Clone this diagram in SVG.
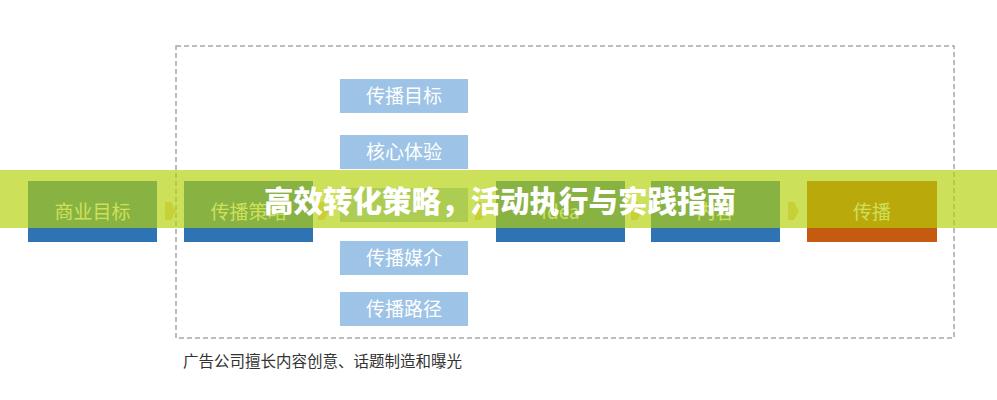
<svg xmlns="http://www.w3.org/2000/svg" width="997" height="400" viewBox="0 0 997 400">
<style>
.main{fill:#2e74b5}
.hot{fill:#c55a11}
.side{fill:#9dc3e6}
.lbl{font-family:"Noto Sans CJK SC","Liberation Sans",sans-serif;font-size:19px;fill:#ffffff;text-anchor:middle}
.arr{fill:#f0ce94}
.frame{fill:none;stroke:#a6a6a6;stroke-width:1.5;stroke-dasharray:5 3}
.cap{font-family:"Noto Sans CJK SC","Liberation Sans",sans-serif;font-size:15.5px;fill:#333333}
.title{font-family:"Noto Sans CJK SC","Liberation Sans",sans-serif;font-size:29.5px;font-weight:900;fill:#ffffff;text-anchor:middle}
</style>
<rect width="997" height="400" fill="#ffffff"/>
<rect class="frame" x="176" y="46" width="778" height="292"/>
<g id="connectors">
<polygon class="arr" points="165,202 171,202 176,211 171,220 165,220"/>
<polygon class="arr" points="318,202 324,202 329,211 324,220 318,220"/>
<polygon class="arr" points="475,202 481,202 486,211 481,220 475,220"/>
<polygon class="arr" points="631,202 637,202 642,211 637,220 631,220"/>
<polygon class="arr" points="788,202 794,202 799,211 794,220 788,220"/>
</g>
<g id="n-shangye"><rect class="main" x="28" y="181" width="129" height="61"/><text class="lbl" x="92.5" y="219">商业目标</text></g>
<g id="n-celue"><rect class="main" x="184" y="181" width="129" height="61"/><text class="lbl" x="248.5" y="219">传播策略</text></g>
<g id="n-idea"><rect class="main" x="496" y="181" width="129" height="61"/><text class="lbl" x="560.5" y="219">Idea</text></g>
<g id="n-neirong"><rect class="main" x="651" y="181" width="129" height="61"/><text class="lbl" x="715.5" y="219">内容</text></g>
<g id="n-chuanbo"><rect class="hot" x="807" y="181" width="130" height="61"/><text class="lbl" x="872" y="219">传播</text></g>
<g id="s-mubiao"><rect class="side" x="340" y="79" width="128" height="34"/><text class="lbl" x="404" y="102.5">传播目标</text></g>
<g id="s-tiyan"><rect class="side" x="340" y="135" width="128" height="34"/><text class="lbl" x="404" y="158.5">核心体验</text></g>
<g id="s-hidden"><rect class="side" x="340" y="188" width="128" height="34"/></g>
<g id="s-meijie"><rect class="side" x="340" y="241" width="128" height="34"/><text class="lbl" x="404" y="264.5">传播媒介</text></g>
<g id="s-lujing"><rect class="side" x="340" y="292" width="128" height="34"/><text class="lbl" x="404" y="315.5">传播路径</text></g>
<text class="cap" x="183" y="367">广告公司擅长内容创意、话题制造和曝光</text>
<g id="banner">
<rect x="0" y="170" width="997" height="58" fill="#b4d109" opacity="0.67"/>
<text class="title" x="500" y="212">高效转化策略，活动执行与实践指南</text>
</g>
</svg>
